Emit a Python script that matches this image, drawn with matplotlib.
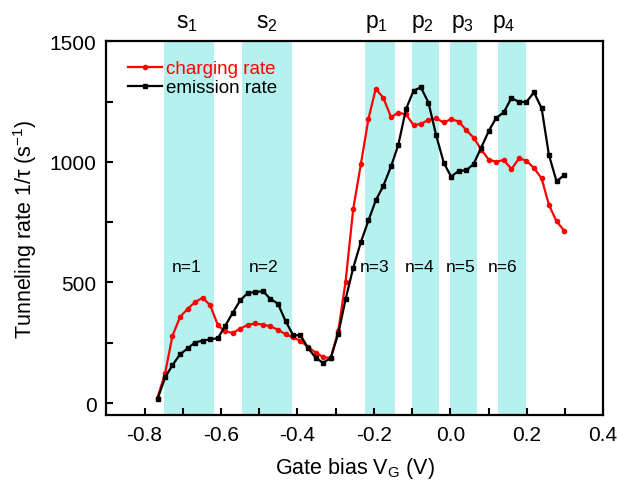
import matplotlib
matplotlib.use("Agg")
import matplotlib.pyplot as plt
import matplotlib.transforms as mtransforms

plt.rcParams['font.family'] = ['Liberation Sans', 'DejaVu Sans']
plt.rcParams['mathtext.fontset'] = 'custom'
plt.rcParams['mathtext.rm'] = 'Liberation Sans'
plt.rcParams['mathtext.it'] = 'Liberation Sans:italic'

# gate bias (V)
gate_bias = [-0.766, -0.746, -0.727, -0.707, -0.687, -0.668, -0.648, -0.628, -0.608, -0.589,
             -0.569, -0.549, -0.530, -0.510, -0.490, -0.471, -0.451, -0.431, -0.411, -0.392,
             -0.372, -0.352, -0.333, -0.313, -0.293, -0.274, -0.254, -0.234, -0.214, -0.195,
             -0.175, -0.155, -0.136, -0.116, -0.096, -0.077, -0.057, -0.037, -0.017, 0.002,
             0.022, 0.042, 0.061, 0.081, 0.101, 0.120, 0.140, 0.160, 0.180, 0.199,
             0.219, 0.239, 0.258, 0.278, 0.298]

charging_rate = [22, 125, 278, 357, 391, 418, 437, 405, 322, 297,
                 291, 309, 324, 330, 325, 318, 304, 285, 272, 258,
                 232, 209, 191, 186, 299, 503, 804, 990, 1179, 1303,
                 1265, 1185, 1204, 1197, 1152, 1157, 1174, 1180, 1163, 1177,
                 1167, 1131, 1100, 1051, 1008, 1001, 1007, 970, 1014, 1005,
                 974, 931, 822, 753, 715]

emission_rate = [17, 106, 157, 202, 227, 251, 259, 264, 269, 320,
                 375, 427, 456, 460, 464, 432, 412, 340, 281, 281,
                 228, 187, 167, 186, 288, 430, 560, 667, 757, 840,
                 901, 981, 1070, 1218, 1295, 1309, 1245, 1110, 996, 939,
                 962, 965, 991, 1059, 1129, 1182, 1205, 1265, 1248, 1248,
                 1288, 1222, 1029, 919, 945]

# shaded shell windows
band_lo = [-0.750, -0.546, -0.222, -0.099, 0.000, 0.125]
band_hi = [-0.617, -0.413, -0.144, -0.029, 0.071, 0.199]
band_names = ['s$_{\\mathregular{1}}$', 's$_{\\mathregular{2}}$', 'p$_{\\mathregular{1}}$',
              'p$_{\\mathregular{2}}$', 'p$_{\\mathregular{3}}$', 'p$_{\\mathregular{4}}$']
name_x = [-0.689, -0.481, -0.194, -0.073, 0.031, 0.141]
n_labels = ['n=1', 'n=2', 'n=3', 'n=4', 'n=5', 'n=6']
n_x = [-0.690, -0.489, -0.199, -0.079, 0.026, 0.137]
n_y = 565

fig = plt.figure(figsize=(6.18, 4.85), dpi=100)
ax = fig.add_axes([0.172, 0.142, 0.804, 0.771])

for lo, hi in zip(band_lo, band_hi):
    ax.axvspan(lo, hi, color='#b5f2ef', lw=0, zorder=0)

ax.plot(gate_bias, charging_rate, '-o', color='red', lw=1.6, ms=3,
        label='charging rate', zorder=3)
ax.plot(gate_bias, emission_rate, '-s', color='black', lw=1.6, ms=3,
        label='emission rate', zorder=3)

trans = mtransforms.blended_transform_factory(ax.transData, ax.transAxes)
for xx, name in zip(name_x, band_names):
    ax.text(xx, 1.037, name, transform=trans, ha='center', va='baseline', fontsize=16.5)

for xx, lab in zip(n_x, n_labels):
    ax.text(xx, n_y, lab, ha='center', va='center', fontsize=12.5)

ax.set_xlim(-0.9, 0.4)
ax.set_ylim(-50, 1500)
ax.set_xticks([-0.8, -0.6, -0.4, -0.2, 0.0, 0.2, 0.4])
ax.set_xticks([-0.7, -0.5, -0.3, -0.1, 0.1, 0.3], minor=True)
ax.set_yticks([0, 500, 1000, 1500])
ax.set_yticks([250, 750, 1250], minor=True)
ax.xaxis.set_major_formatter(plt.FuncFormatter(lambda v, p: f'{v:.1f}'))
ax.tick_params(which='both', direction='in', length=5, width=1.5, labelsize=15, pad=7,
               top=False, right=False)
for sp in ax.spines.values():
    sp.set_linewidth(1.6)

ax.set_xlabel('Gate bias V$_{\\mathregular{G}}$ (V)', fontsize=15.5, labelpad=8)
ax.set_ylabel('Tunneling rate 1/τ (s$^{\\mathregular{-1}}$)', fontsize=15.5, labelpad=8)

ax.legend(loc='upper left', bbox_to_anchor=(0.01, 0.995), frameon=False, fontsize=13.5,
          handlelength=1.8, handletextpad=0.2, labelspacing=0.1, labelcolor='linecolor')

fig.savefig('out.png', dpi=100)
